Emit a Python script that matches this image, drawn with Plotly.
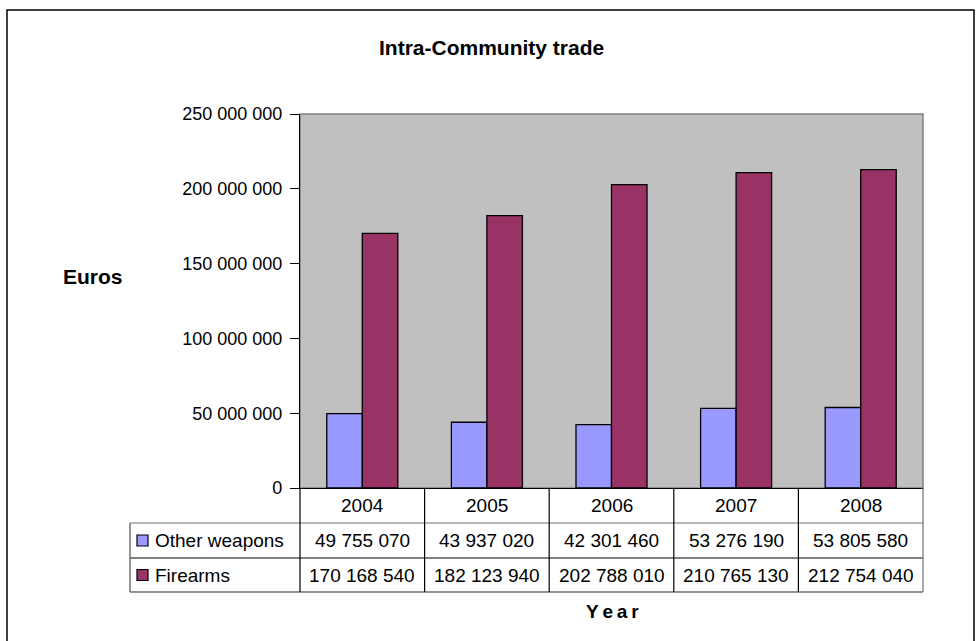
import plotly.graph_objects as go

years = ["2004", "2005", "2006", "2007", "2008"]
other_weapons = [49755070, 43937020, 42301460, 53276190, 53805580]
firearms = [170168540, 182123940, 202788010, 210765130, 212754040]
series_names = ["Other weapons", "Firearms"]
colors = ["#9999FF", "#993366"]
y_ticks = [0, 50000000, 100000000, 150000000, 200000000, 250000000]

FONT = "Liberation Sans, Arial, sans-serif"
W, H = 979, 641
L, R, T, B = 300, 56, 114, 153
PW, PH = W - L - R, H - T - B


def px_x(px):
    return (px - L) / PW


def px_y(py):
    return (H - B - py) / PH


def fmt(v):
    return f"{v:,}".replace(",", " ")


fig = go.Figure()
for name, vals, col in zip(series_names, [other_weapons, firearms], colors):
    fig.add_trace(go.Bar(x=years, y=vals, name=name,
                         marker=dict(color=col, line=dict(color="black", width=1.3)),
                         hoverinfo="x+y"))

shapes = []
ann = []

# outer chart frame
shapes.append(dict(type="rect", xref="paper", yref="paper",
                   x0=px_x(7), x1=px_x(974), y0=px_y(700), y1=px_y(10),
                   line=dict(color="black", width=1.5), layer="below"))
# plot area border
shapes.append(dict(type="rect", xref="paper", yref="paper", x0=0, x1=1, y0=0, y1=1,
                   line=dict(color="#808080", width=1.5), layer="below"))

# data table geometry
row_px = [488, 523, 558, 592]
rows = [px_y(p) for p in row_px]
n = len(years)
leg_left = px_x(130)
grid = "#000000"
edge = "#707070"

shapes.append(dict(type="line", xref="paper", yref="paper", x0=leg_left, x1=1,
                   y0=rows[1], y1=rows[1], line=dict(color=edge, width=1.2)))
shapes.append(dict(type="line", xref="paper", yref="paper", x0=leg_left, x1=1,
                   y0=rows[2], y1=rows[2], line=dict(color=grid, width=1)))
shapes.append(dict(type="line", xref="paper", yref="paper", x0=leg_left, x1=1,
                   y0=rows[3], y1=rows[3], line=dict(color=edge, width=1.5)))
for i in range(n + 1):
    xb = i / n
    c = edge if i == n else grid
    shapes.append(dict(type="line", xref="paper", yref="paper", x0=xb, x1=xb,
                       y0=rows[3], y1=rows[0], line=dict(color=c, width=1.2)))
shapes.append(dict(type="line", xref="paper", yref="paper", x0=leg_left, x1=leg_left,
                   y0=rows[3], y1=rows[1], line=dict(color=edge, width=1.5)))

TBL = 19
for i, yr in enumerate(years):
    ann.append(dict(xref="paper", yref="paper", x=(i + 0.5) / n, y=(rows[0] + rows[1]) / 2,
                    xanchor="center", yanchor="middle",
                    text=yr, showarrow=False, font=dict(size=TBL, color="black", family=FONT)))
for r, (name, vals, col) in enumerate(zip(series_names, [other_weapons, firearms], colors)):
    yc = (rows[r + 1] + rows[r + 2]) / 2
    for i, v in enumerate(vals):
        ann.append(dict(xref="paper", yref="paper", x=(i + 0.5) / n, y=yc,
                        xanchor="center", yanchor="middle",
                        text=fmt(v), showarrow=False,
                        font=dict(size=TBL, color="black", family=FONT)))
    k0, k1 = px_x(137), px_x(148)
    kh = 5.5 / PH
    shapes.append(dict(type="rect", xref="paper", yref="paper", x0=k0, x1=k1,
                       y0=yc - kh, y1=yc + kh, fillcolor=col,
                       line=dict(color="black", width=1.2)))
    ann.append(dict(xref="paper", yref="paper", x=px_x(153), y=yc,
                    xanchor="left", yanchor="middle",
                    text=name, showarrow=False,
                    font=dict(size=TBL, color="black", family=FONT)))

ann.append(dict(xref="paper", yref="paper", x=px_x(491), y=px_y(48),
                xanchor="center", yanchor="middle",
                text="<b>Intra-Community trade</b>", showarrow=False,
                font=dict(size=21, color="black", family=FONT)))
ann.append(dict(xref="paper", yref="paper", x=px_x(93), y=px_y(276),
                xanchor="center", yanchor="middle",
                text="<b>Euros</b>", showarrow=False,
                font=dict(size=21, color="black", family=FONT)))
ann.append(dict(xref="paper", yref="paper", x=px_x(612), y=px_y(611),
                xanchor="center", yanchor="middle",
                text="<b>Y\u2009e\u2009a\u2009r</b>", showarrow=False,
                font=dict(size=19, color="black", family=FONT)))

fig.update_layout(
    width=W, height=H,
    margin=dict(l=L, r=R, t=T, b=B, pad=0),
    paper_bgcolor="white", plot_bgcolor="#C0C0C0",
    barmode="group", bargap=0.43, bargroupgap=0,
    showlegend=False,
    separators=", ",
    shapes=shapes, annotations=ann,
    font=dict(family=FONT, color="black"),
)
fig.update_xaxes(showticklabels=False, ticks="", showgrid=False, showline=True,
                 linecolor="black", linewidth=1.2, zeroline=False)
fig.update_yaxes(range=[0, 250000000], tickvals=y_ticks, tickformat=",d",
                 ticks="outside", ticklen=9, tickcolor="black", tickwidth=1,
                 showgrid=False, showline=True, linecolor="black", linewidth=1.2,
                 zeroline=False, tickfont=dict(size=18, family=FONT, color="black"),
                 ticklabelstandoff=4)

fig.write_html("out.html", config={"displayModeBar": False},
               post_script="document.body.style.margin='0';document.body.style.overflow='hidden';")
